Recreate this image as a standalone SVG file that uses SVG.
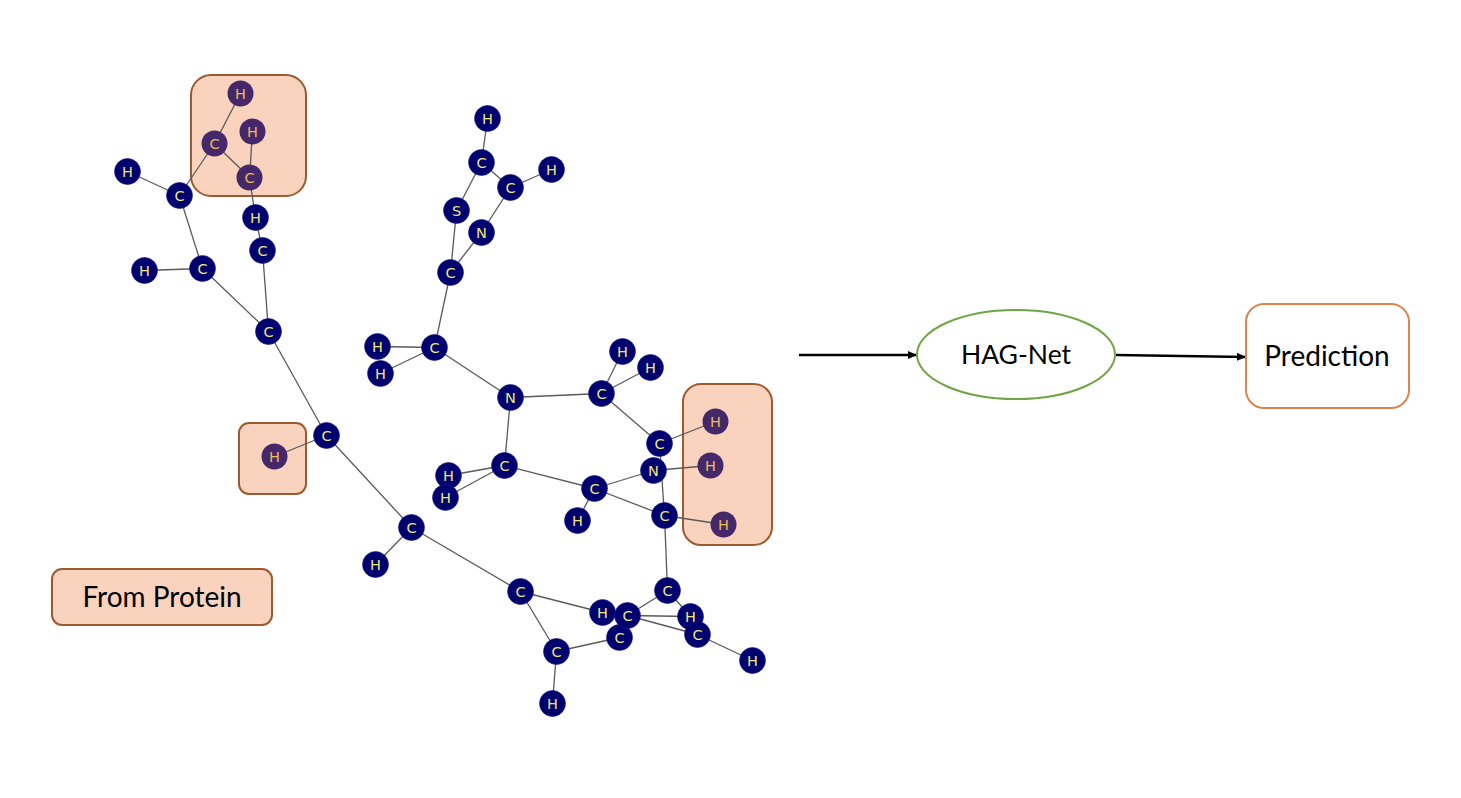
<svg xmlns="http://www.w3.org/2000/svg" width="1461" height="798" viewBox="0 0 1461 798">
<style>
.hl{fill:#f9d3bd;stroke:#9c5a30;stroke-width:2}
#bonds line{stroke:#5a5a5a;stroke-width:1.3}
.a circle{fill:#00006e;stroke:#1a1a8a;stroke-width:.6}
.a text{fill:#eee87a;font:14.500px "DejaVu Sans",sans-serif;text-anchor:middle}
.p circle{fill:#45286a;stroke:none}
.p text{fill:#e8bd55}
.t{font:28px Lato,"Open Sans",sans-serif;fill:#000;text-anchor:middle}
.f{stroke:#000;stroke-width:2.4;fill:none;marker-end:url(#ah)}
</style>
<defs><marker id="ah" markerUnits="userSpaceOnUse" markerWidth="10" markerHeight="10" refX="9" refY="5" orient="auto"><path d="M0 1L9 5L0 9z" fill="#000"/></marker></defs>
<rect width="1461" height="798" fill="#fff"/>
<g id="highlights">
<rect class="hl" x="191" y="75" width="115" height="121" rx="20"/>
<rect class="hl" x="239" y="423" width="67" height="71" rx="10"/>
<rect class="hl" x="683" y="384" width="89" height="161" rx="18"/>
</g>
<g id="bonds" transform="translate(.5 .5)">
<line x1="214" y1="143" x2="240" y2="93"/><line x1="214" y1="143" x2="249" y2="177"/><line x1="249" y1="177" x2="252" y2="131"/><line x1="249" y1="177" x2="255" y2="217"/><line x1="255" y1="217" x2="262" y2="250"/><line x1="214" y1="143" x2="179" y2="195"/><line x1="179" y1="195" x2="127" y2="171"/><line x1="179" y1="195" x2="202" y2="268"/><line x1="202" y1="268" x2="144" y2="270"/><line x1="202" y1="268" x2="268" y2="331"/><line x1="262" y1="250" x2="268" y2="331"/><line x1="268" y1="331" x2="326" y2="435"/><line x1="326" y1="435" x2="274" y2="456"/><line x1="326" y1="435" x2="411" y2="527"/><line x1="411" y1="527" x2="375" y2="564"/><line x1="411" y1="527" x2="520" y2="591"/><line x1="520" y1="591" x2="602" y2="612"/><line x1="520" y1="591" x2="556" y2="651"/><line x1="556" y1="651" x2="552" y2="703"/><line x1="556" y1="651" x2="619" y2="637"/><line x1="627" y1="615" x2="667" y2="590"/><line x1="627" y1="615" x2="690" y2="616"/><line x1="627" y1="615" x2="697" y2="634"/><line x1="667" y1="590" x2="690" y2="616"/><line x1="697" y1="634" x2="752" y2="660"/><line x1="667" y1="590" x2="664" y2="515"/><line x1="664" y1="515" x2="659" y2="443"/><line x1="664" y1="515" x2="723" y2="524"/><line x1="664" y1="515" x2="594" y2="488"/><line x1="594" y1="488" x2="653" y2="470"/><line x1="594" y1="488" x2="577" y2="520"/><line x1="594" y1="488" x2="504" y2="465"/><line x1="504" y1="465" x2="448" y2="475"/><line x1="504" y1="465" x2="445" y2="497"/><line x1="504" y1="465" x2="510" y2="397"/><line x1="510" y1="397" x2="434" y2="347"/><line x1="510" y1="397" x2="601" y2="393"/><line x1="601" y1="393" x2="622" y2="351"/><line x1="601" y1="393" x2="650" y2="367"/><line x1="601" y1="393" x2="659" y2="443"/><line x1="659" y1="443" x2="715" y2="421"/><line x1="653" y1="470" x2="710" y2="465"/><line x1="434" y1="347" x2="377" y2="346"/><line x1="434" y1="347" x2="380" y2="373"/><line x1="434" y1="347" x2="450" y2="272"/><line x1="450" y1="272" x2="456" y2="210"/><line x1="450" y1="272" x2="481" y2="232"/><line x1="456" y1="210" x2="481" y2="162"/><line x1="481" y1="162" x2="487" y2="118"/><line x1="481" y1="162" x2="510" y2="187"/><line x1="510" y1="187" x2="551" y2="169"/><line x1="510" y1="187" x2="481" y2="232"/>
</g>
<g id="atoms" transform="translate(.5 .5)">
<g id="n1" class="a p"><circle cx="240" cy="93" r="13"/><text x="240" y="98">H</text></g>
<g id="n2" class="a p"><circle cx="214" cy="143" r="13"/><text x="214" y="148">C</text></g>
<g id="n3" class="a p"><circle cx="252" cy="131" r="13"/><text x="252" y="136">H</text></g>
<g id="n4" class="a p"><circle cx="249" cy="177" r="13"/><text x="249" y="182">C</text></g>
<g id="n5" class="a"><circle cx="255" cy="217" r="13"/><text x="255" y="222">H</text></g>
<g id="n6" class="a"><circle cx="262" cy="250" r="13"/><text x="262" y="255">C</text></g>
<g id="n7" class="a"><circle cx="127" cy="171" r="13"/><text x="127" y="176">H</text></g>
<g id="n8" class="a"><circle cx="179" cy="195" r="13"/><text x="179" y="200">C</text></g>
<g id="n9" class="a"><circle cx="202" cy="268" r="13"/><text x="202" y="273">C</text></g>
<g id="n10" class="a"><circle cx="144" cy="270" r="13"/><text x="144" y="275">H</text></g>
<g id="n11" class="a"><circle cx="268" cy="331" r="13"/><text x="268" y="336">C</text></g>
<g id="n12" class="a"><circle cx="326" cy="435" r="13"/><text x="326" y="440">C</text></g>
<g id="n13" class="a p"><circle cx="274" cy="456" r="13"/><text x="274" y="461">H</text></g>
<g id="n14" class="a"><circle cx="411" cy="527" r="13"/><text x="411" y="532">C</text></g>
<g id="n15" class="a"><circle cx="375" cy="564" r="13"/><text x="375" y="569">H</text></g>
<g id="n16" class="a"><circle cx="520" cy="591" r="13"/><text x="520" y="596">C</text></g>
<g id="n17" class="a"><circle cx="602" cy="612" r="13"/><text x="602" y="617">H</text></g>
<g id="n18" class="a"><circle cx="619" cy="637" r="13"/><text x="619" y="642">C</text></g>
<g id="n19" class="a"><circle cx="627" cy="615" r="13"/><text x="627" y="620">C</text></g>
<g id="n20" class="a"><circle cx="556" cy="651" r="13"/><text x="556" y="656">C</text></g>
<g id="n21" class="a"><circle cx="552" cy="703" r="13"/><text x="552" y="708">H</text></g>
<g id="n22" class="a"><circle cx="667" cy="590" r="13"/><text x="667" y="595">C</text></g>
<g id="n23" class="a"><circle cx="690" cy="616" r="13"/><text x="690" y="621">H</text></g>
<g id="n24" class="a"><circle cx="697" cy="634" r="13"/><text x="697" y="639">C</text></g>
<g id="n25" class="a"><circle cx="752" cy="660" r="13"/><text x="752" y="665">H</text></g>
<g id="n26" class="a"><circle cx="664" cy="515" r="13"/><text x="664" y="520">C</text></g>
<g id="n27" class="a p"><circle cx="723" cy="524" r="13"/><text x="723" y="529">H</text></g>
<g id="n28" class="a"><circle cx="659" cy="443" r="13"/><text x="659" y="448">C</text></g>
<g id="n29" class="a"><circle cx="653" cy="470" r="13"/><text x="653" y="475">N</text></g>
<g id="n30" class="a p"><circle cx="710" cy="465" r="13"/><text x="710" y="470">H</text></g>
<g id="n31" class="a p"><circle cx="715" cy="421" r="13"/><text x="715" y="426">H</text></g>
<g id="n32" class="a"><circle cx="601" cy="393" r="13"/><text x="601" y="398">C</text></g>
<g id="n33" class="a"><circle cx="622" cy="351" r="13"/><text x="622" y="356">H</text></g>
<g id="n34" class="a"><circle cx="650" cy="367" r="13"/><text x="650" y="372">H</text></g>
<g id="n35" class="a"><circle cx="510" cy="397" r="13"/><text x="510" y="402">N</text></g>
<g id="n36" class="a"><circle cx="434" cy="347" r="13"/><text x="434" y="352">C</text></g>
<g id="n37" class="a"><circle cx="377" cy="346" r="13"/><text x="377" y="351">H</text></g>
<g id="n38" class="a"><circle cx="380" cy="373" r="13"/><text x="380" y="378">H</text></g>
<g id="n39" class="a"><circle cx="450" cy="272" r="13"/><text x="450" y="277">C</text></g>
<g id="n40" class="a"><circle cx="456" cy="210" r="13"/><text x="456" y="215">S</text></g>
<g id="n41" class="a"><circle cx="481" cy="232" r="13"/><text x="481" y="237">N</text></g>
<g id="n42" class="a"><circle cx="510" cy="187" r="13"/><text x="510" y="192">C</text></g>
<g id="n43" class="a"><circle cx="551" cy="169" r="13"/><text x="551" y="174">H</text></g>
<g id="n44" class="a"><circle cx="481" cy="162" r="13"/><text x="481" y="167">C</text></g>
<g id="n45" class="a"><circle cx="487" cy="118" r="13"/><text x="487" y="123">H</text></g>
<g id="n46" class="a"><circle cx="504" cy="465" r="13"/><text x="504" y="470">C</text></g>
<g id="n47" class="a"><circle cx="448" cy="475" r="13"/><text x="448" y="480">H</text></g>
<g id="n48" class="a"><circle cx="445" cy="497" r="13"/><text x="445" y="502">H</text></g>
<g id="n49" class="a"><circle cx="594" cy="488" r="13"/><text x="594" y="493">C</text></g>
<g id="n50" class="a"><circle cx="577" cy="520" r="13"/><text x="577" y="525">H</text></g>
</g>
<g id="legend"><rect class="hl" x="52" y="569" width="220" height="56" rx="10"/><text class="t" x="162" y="607">From Protein</text></g>
<g id="flow">
<line class="f" x1="799" y1="355" x2="917" y2="355"/>
<line class="f" x1="1116" y1="355" x2="1246" y2="357"/>
</g>
<g id="hagnet"><ellipse cx="1016" cy="354.500" rx="99" ry="44.500" fill="#fff" stroke="#6fa544" stroke-width="2"/><text class="t" style="font-size:26.500px" x="1016" y="364">HAG-Net</text></g>
<g id="prediction"><rect x="1246" y="304" width="163" height="104" rx="18" fill="#fff" stroke="#d9864e" stroke-width="2"/><text class="t" x="1327" y="366">Prediction</text></g>
</svg>
